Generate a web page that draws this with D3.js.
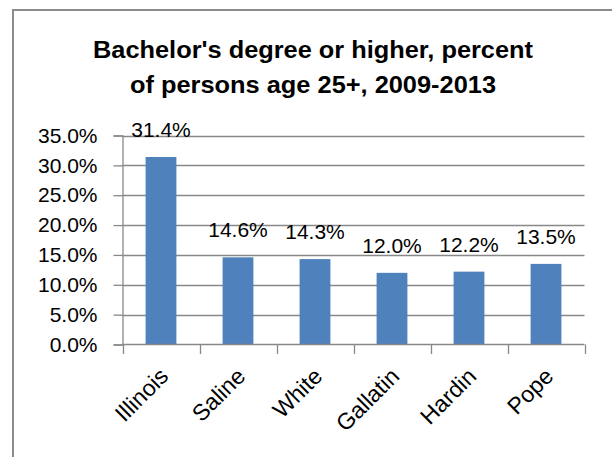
<!DOCTYPE html>
<html>
<head>
<meta charset="utf-8">
<script src="https://cdn.jsdelivr.net/npm/d3@7"></script>
<style>
  body { margin: 0; background: #fff; }
  svg { display: block; }
  text { font-family: "Liberation Sans", Arial, sans-serif; fill: #000; }
</style>
</head>
<body>
<div id="chart"></div>
<script>
// chart data
var counties = ["Illinois", "Saline", "White", "Gallatin", "Hardin", "Pope"];
var pctBachelor = [0.314, 0.146, 0.143, 0.120, 0.122, 0.135];
var yTicks = [0, 0.05, 0.10, 0.15, 0.20, 0.25, 0.30, 0.35];
var titleLines = ["Bachelor's degree or higher, percent", "of persons age 25+, 2009-2013"];

var W = 612, H = 457;
var svg = d3.select("#chart").append("svg").attr("width", W).attr("height", H);

// outer chart frame (runs off the right/bottom edge like the picture)
svg.append("rect")
    .attr("x", 13).attr("y", 10)
    .attr("width", 700).attr("height", 600)
    .attr("fill", "none").attr("stroke", "#8c8c8c").attr("stroke-width", 2);

// title
svg.selectAll("text.title").data(titleLines).enter().append("text")
    .attr("class", "title")
    .attr("x", 313)
    .attr("y", function (d, i) { return 58 + i * 35; })
    .attr("text-anchor", "middle")
    .style("font-weight", "bold")
    .style("font-size", "23px")
    .attr("textLength", function (d, i) { return i == 0 ? 440 : 366; })
    .attr("lengthAdjust", "spacingAndGlyphs")
    .text(function (d) { return d; });

var x = d3.scaleBand()
    .domain(counties)
    .range([122.5, 584.5])
    .paddingInner(0.6)
    .paddingOuter(0.3);

var y = d3.scaleLinear()
    .domain([0, 0.35])
    .range([344.5, 135.5]);

var fmt = d3.format(".1%");
var gridColor = "#888888";

// gridlines
svg.append("g").selectAll("line").data(yTicks.slice(1)).enter().append("line")
    .attr("x1", 122.5).attr("x2", 584.5)
    .attr("y1", function (d) { return Math.round(y(d)) + 0.5; })
    .attr("y2", function (d) { return Math.round(y(d)) + 0.5; })
    .attr("stroke", gridColor).attr("stroke-width", 1.3);

// y axis
var yAxis = d3.axisLeft(y).tickValues(yTicks).tickFormat(fmt).tickSize(9).tickPadding(16);
var gy = svg.append("g").attr("transform", "translate(122.5,0)").call(yAxis);
gy.select(".domain").attr("stroke", gridColor).attr("stroke-width", 1.3);
gy.selectAll(".tick line").attr("stroke", gridColor).attr("stroke-width", 1.3);
gy.selectAll(".tick text")
    .style("font-size", "21px")
    .style("font-family", "'Liberation Sans', Arial, sans-serif")
    .attr("fill", "#000");

// bars
svg.append("g").selectAll("rect").data(pctBachelor).enter().append("rect")
    .attr("x", function (d, i) { return x(counties[i]); })
    .attr("y", function (d) { return y(d); })
    .attr("width", x.bandwidth())
    .attr("height", function (d) { return y(0) - y(d); })
    .attr("fill", "#4f81bd");

// x axis baseline + category separators
var step = x.step();
var bounds = d3.range(counties.length + 1).map(function (i) { return 122.5 + i * step; });
svg.append("line")
    .attr("x1", 122.5).attr("x2", 584.5)
    .attr("y1", 344.5).attr("y2", 344.5)
    .attr("stroke", gridColor).attr("stroke-width", 1.3);
svg.append("g").selectAll("line").data(bounds).enter().append("line")
    .attr("x1", function (d) { return Math.round(d) + 0.5; })
    .attr("x2", function (d) { return Math.round(d) + 0.5; })
    .attr("y1", 344.5).attr("y2", 354)
    .attr("stroke", gridColor).attr("stroke-width", 1.3);

// category labels, rotated
svg.append("g").selectAll("text").data(counties).enter().append("text")
    .attr("transform", function (d) {
        return "translate(" + (x(d) + x.bandwidth() / 2 - 3) + ",366) rotate(-45)";
    })
    .attr("dy", "0.72em")
    .attr("text-anchor", "end")
    .style("font-size", "23px")
    .text(function (d) { return d; });

// value labels
svg.append("g").selectAll("text").data(pctBachelor).enter().append("text")
    .attr("x", function (d, i) { return x(counties[i]) + x.bandwidth() / 2; })
    .attr("y", function (d) { return y(d) - 20; })
    .attr("text-anchor", "middle")
    .style("font-size", "21px")
    .text(function (d) { return fmt(d); });
</script>
</body>
</html>
